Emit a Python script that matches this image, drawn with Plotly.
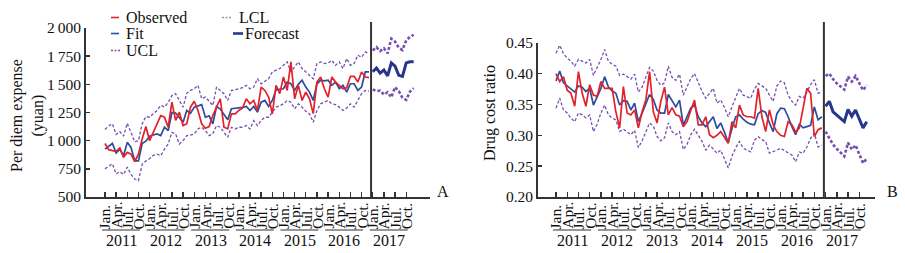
import plotly.graph_objects as go

# ---------------- data ----------------
years = [2011, 2012, 2013, 2014, 2015, 2016, 2017]
month_labels = ["Jan.", "Apr.", "Jul.", "Oct."]
month_offsets = [0, 3, 6, 9]

# Panel A: per diem expense (yuan), Jan 2011 - Dec 2016
obs_A = [975, 920, 912, 905, 935, 852, 896, 880, 815, 880, 1015, 1125,
         1000, 1074, 1155, 1223, 1208, 1120, 1342, 1180, 1253, 1134, 1150, 1298,
         1350, 1268, 1150, 1110, 1125, 1223, 1298, 1372, 1120, 1105, 1238, 1238,
         1268, 1290, 1372, 1327, 1357, 1268, 1476, 1446, 1387, 1238, 1491, 1417,
         1565, 1446, 1699, 1372, 1491, 1357, 1431, 1372, 1240, 1520, 1565, 1461,
         1387, 1565, 1520, 1491, 1461, 1470, 1571, 1571, 1520, 1610, 1565, 1560]
fit_A = [925, 950, 975, 890, 925, 866, 985, 940, 820, 820, 975, 995,
         1040, 1050, 1060, 1045, 1120, 1090, 1250, 1245, 1200, 1164, 1268, 1244,
         1298, 1310, 1320, 1208, 1220, 1150, 1303, 1280, 1230, 1185, 1283, 1285,
         1290, 1295, 1304, 1268, 1304, 1253, 1342, 1357, 1304, 1357, 1452, 1455,
         1461, 1520, 1505, 1446, 1500, 1536, 1476, 1431, 1357, 1505, 1536, 1530,
         1536, 1491, 1520, 1461, 1491, 1431, 1505, 1505, 1446, 1476, 1610, 1610]
ucl_A = [1100, 1130, 1150, 1055, 1080, 1040, 1155, 1070, 990, 1000, 1150, 1215,
         1208, 1238, 1268, 1313, 1298, 1340, 1400, 1417, 1360, 1298, 1420, 1446,
         1461, 1491, 1372, 1387, 1350, 1313, 1476, 1446, 1417, 1357, 1446, 1452,
         1461, 1470, 1491, 1461, 1476, 1550, 1505, 1530, 1550, 1610, 1625, 1640,
         1669, 1699, 1610, 1655, 1699, 1640, 1610, 1580, 1550, 1684, 1699, 1684,
         1690, 1714, 1669, 1699, 1640, 1729, 1669, 1684, 1759, 1740, 1788, 1773]
lcl_A = [750, 775, 795, 705, 725, 700, 765, 700, 660, 645, 790, 820,
         840, 870, 880, 866, 925, 970, 1074, 1060, 970, 1000, 1045, 1050,
         1060, 1104, 1119, 1089, 1045, 1060, 1134, 1119, 1074, 1030, 1119, 1104,
         1119, 1119, 1134, 1104, 1178, 1134, 1180, 1208, 1208, 1253, 1298, 1310,
         1327, 1357, 1342, 1283, 1327, 1298, 1260, 1238, 1164, 1268, 1327, 1342,
         1357, 1327, 1320, 1298, 1268, 1290, 1327, 1298, 1357, 1417, 1446, 1440]
fc_A = [1612, 1645, 1600, 1627, 1575, 1690, 1662, 1580, 1570, 1690, 1700, 1700]
fc_ucl_A = [1800, 1830, 1795, 1820, 1775, 1905, 1880, 1825, 1805, 1890, 1920, 1940]
fc_lcl_A = [1455, 1440, 1445, 1410, 1430, 1385, 1475, 1440, 1380, 1362, 1435, 1465]

# Panel B: drug cost ratio
obs_B = [0.400, 0.387, 0.395, 0.373, 0.368, 0.347, 0.403, 0.368, 0.347, 0.382, 0.365, 0.363,
         0.387, 0.376, 0.376, 0.376, 0.338, 0.312, 0.379, 0.336, 0.333, 0.341, 0.312, 0.338,
         0.357, 0.403, 0.338, 0.320, 0.355, 0.378, 0.333, 0.345, 0.333, 0.331, 0.314, 0.322,
         0.340, 0.357, 0.317, 0.317, 0.330, 0.301, 0.296, 0.300, 0.306, 0.296, 0.287, 0.322,
         0.312, 0.349, 0.333, 0.330, 0.330, 0.328, 0.376, 0.330, 0.306, 0.341, 0.317, 0.306,
         0.300, 0.298, 0.322, 0.317, 0.305, 0.312, 0.344, 0.376, 0.368, 0.298, 0.309, 0.312]
fit_B = [0.388, 0.404, 0.385, 0.380, 0.374, 0.370, 0.380, 0.378, 0.371, 0.376, 0.349, 0.362,
         0.376, 0.395, 0.378, 0.372, 0.368, 0.349, 0.356, 0.355, 0.341, 0.352, 0.322, 0.336,
         0.350, 0.366, 0.358, 0.341, 0.336, 0.336, 0.366, 0.355, 0.346, 0.357, 0.316, 0.330,
         0.344, 0.349, 0.330, 0.320, 0.314, 0.322, 0.330, 0.311, 0.320, 0.305, 0.288, 0.311,
         0.330, 0.333, 0.326, 0.321, 0.318, 0.317, 0.335, 0.340, 0.337, 0.320, 0.306, 0.335,
         0.344, 0.343, 0.330, 0.314, 0.301, 0.318, 0.312, 0.314, 0.316, 0.346, 0.325, 0.330]
ucl_B = [0.433, 0.446, 0.432, 0.425, 0.420, 0.412, 0.423, 0.420, 0.417, 0.423, 0.397, 0.410,
         0.423, 0.439, 0.420, 0.415, 0.412, 0.397, 0.399, 0.395, 0.391, 0.399, 0.370, 0.378,
         0.394, 0.410, 0.404, 0.389, 0.381, 0.385, 0.412, 0.394, 0.389, 0.399, 0.365, 0.378,
         0.392, 0.400, 0.385, 0.371, 0.360, 0.368, 0.376, 0.352, 0.357, 0.345, 0.330, 0.346,
         0.362, 0.376, 0.365, 0.363, 0.360, 0.375, 0.384, 0.380, 0.376, 0.365, 0.355, 0.380,
         0.388, 0.385, 0.365, 0.355, 0.349, 0.363, 0.360, 0.370, 0.382, 0.390, 0.368, 0.371]
lcl_B = [0.344, 0.360, 0.341, 0.336, 0.328, 0.322, 0.336, 0.333, 0.328, 0.333, 0.306, 0.318,
         0.336, 0.349, 0.333, 0.328, 0.325, 0.306, 0.310, 0.305, 0.301, 0.308, 0.280, 0.291,
         0.306, 0.320, 0.315, 0.298, 0.291, 0.296, 0.320, 0.306, 0.301, 0.306, 0.277, 0.285,
         0.301, 0.310, 0.300, 0.290, 0.276, 0.284, 0.278, 0.271, 0.276, 0.262, 0.247, 0.266,
         0.280, 0.290, 0.279, 0.276, 0.273, 0.292, 0.298, 0.293, 0.290, 0.271, 0.273, 0.276,
         0.279, 0.275, 0.271, 0.268, 0.257, 0.273, 0.271, 0.281, 0.295, 0.303, 0.281, 0.284]
fc_B = [0.347, 0.355, 0.338, 0.333, 0.328, 0.322, 0.342, 0.331, 0.341, 0.327, 0.312, 0.322]
fc_ucl_B = [0.396, 0.400, 0.391, 0.384, 0.379, 0.374, 0.395, 0.387, 0.396, 0.385, 0.373, 0.381]
fc_lcl_B = [0.306, 0.295, 0.285, 0.278, 0.272, 0.266, 0.288, 0.277, 0.284, 0.270, 0.255, 0.262]

yticks_A = [500, 750, 1000, 1250, 1500, 1750, 2000]
yticktext_A = ["500", "750", "1\u2009000", "1\u2009250", "1\u2009500", "1\u2009750", "2\u2009000"]
yticks_B = [0.20, 0.25, 0.30, 0.35, 0.40, 0.45]
yticktext_B = ["0.20", "0.25", "0.30", "0.35", "0.40", "0.45"]

legend_names = ["Observed", "Fit", "UCL", "LCL", "Forecast"]

# ---------------- styling ----------------
W, H = 905, 253
FONT = "Liberation Serif"
RED = "#E3212B"
BLUE = "#2D4C9C"
PURPLE = "#7650B0"
FCBLUE = "#27368C"
AXIS = "#333333"
TXT = "#111111"


def px(x):
    return x / W


def py(y):
    return 1 - y / H


n_hist = len(obs_A)
hist_x = list(range(n_hist))
fc_x = list(range(n_hist, n_hist + len(fc_A)))
split_x = n_hist - 0.45

fig = go.Figure()

panels = [
    dict(xa="x", ya="y", obs=obs_A, fit=fit_A, ucl=ucl_A, lcl=lcl_A,
         fc=fc_A, fcu=fc_ucl_A, fcl=fc_lcl_A),
    dict(xa="x2", ya="y2", obs=obs_B, fit=fit_B, ucl=ucl_B, lcl=lcl_B,
         fc=fc_B, fcu=fc_ucl_B, fcl=fc_lcl_B),
]

for p in panels:
    common = dict(xaxis=p["xa"], yaxis=p["ya"], mode="lines", showlegend=False)
    fig.add_trace(go.Scatter(x=hist_x, y=p["ucl"], name="UCL",
                             line=dict(color=PURPLE, width=1.3, dash="3px,2px"), **common))
    fig.add_trace(go.Scatter(x=hist_x, y=p["lcl"], name="LCL",
                             line=dict(color=PURPLE, width=1.3, dash="3px,2px"), **common))
    fig.add_trace(go.Scatter(x=hist_x, y=p["fit"], name="Fit",
                             line=dict(color=BLUE, width=1.7), **common))
    fig.add_trace(go.Scatter(x=hist_x, y=p["obs"], name="Observed",
                             line=dict(color=RED, width=1.7), **common))
    fig.add_trace(go.Scatter(x=fc_x, y=p["fcu"], name="UCL",
                             line=dict(color=PURPLE, width=2.6, dash="3px,2px"), **common))
    fig.add_trace(go.Scatter(x=fc_x, y=p["fcl"], name="LCL",
                             line=dict(color=PURPLE, width=2.6, dash="3px,2px"), **common))
    fig.add_trace(go.Scatter(x=fc_x, y=p["fc"], name="Forecast",
                             line=dict(color=FCBLUE, width=3), **common))

tickvals_x = list(range(0, 12 * len(years), 3))

xcommon = dict(showline=True, linecolor=AXIS, linewidth=1.8, ticks="inside",
               tickvals=tickvals_x, ticklen=5, tickwidth=1.4, tickcolor=AXIS,
               showticklabels=False, showgrid=False, zeroline=False, automargin=False)
ycommon = dict(showline=True, linecolor=AXIS, linewidth=1.8, ticks="inside",
               ticklen=4, tickwidth=1.4, tickcolor=AXIS, showgrid=False, zeroline=False,
               automargin=False, tickfont=dict(family=FONT, size=15.5, color=TXT))

ybot = py(197)
fig.update_layout(
    width=W, height=H, autosize=False,
    margin=dict(l=0, r=0, t=0, b=0, pad=0, autoexpand=False),
    showlegend=False,
    paper_bgcolor="white", plot_bgcolor="white",
    font=dict(family=FONT, size=15.5, color=TXT),
    xaxis=dict(domain=[px(86), px(430)], range=[-5.1, 87.4], anchor="y", **xcommon),
    yaxis=dict(domain=[ybot, py(28)], range=[500, 2000], anchor="x",
               tickvals=yticks_A, ticktext=yticktext_A, **ycommon),
    xaxis2=dict(domain=[px(538), px(875)], range=[-4.8, 85.2], anchor="y2", **xcommon),
    yaxis2=dict(domain=[ybot, py(42.7)], range=[0.20, 0.45], anchor="x2",
                tickvals=yticks_B, ticktext=yticktext_B, **ycommon),
)

shapes = []
annotations = []

for xa in ["x", "x2"]:
    # forecast separator
    shapes.append(dict(type="line", xref=xa, yref="paper", x0=split_x, x1=split_x,
                       y0=ybot, y1=py(22), line=dict(color=AXIS, width=2)))
    for yi, yr in enumerate(years):
        base = 12 * yi
        for lab, off in zip(month_labels, month_offsets):
            annotations.append(dict(x=base + off, y=py(231), xref=xa, yref="paper",
                                    text=lab, textangle=-90, showarrow=False,
                                    xanchor="center", yanchor="bottom",
                                    font=dict(family=FONT, size=15.5, color=TXT)))
        shapes.append(dict(type="line", xref=xa, yref="paper", x0=base - 0.8, x1=base + 9.4,
                           y0=py(230), y1=py(230), line=dict(color=AXIS, width=1.2)))
        annotations.append(dict(x=base + 4.4, y=py(240.5), xref=xa, yref="paper",
                                text=str(yr), showarrow=False, xanchor="center",
                                yanchor="middle",
                                font=dict(family=FONT, size=16, color=TXT)))

# axis titles & panel letters
annotations.append(dict(x=px(27), y=py(116), xref="paper", yref="paper",
                        text="Per diem expense<br>(yuan)", textangle=-90, showarrow=False,
                        xanchor="center", yanchor="middle",
                        font=dict(family=FONT, size=16, color=TXT)))
annotations.append(dict(x=px(490), y=py(113), xref="paper", yref="paper",
                        text="Drug cost ratio", textangle=-90, showarrow=False,
                        xanchor="center", yanchor="middle",
                        font=dict(family=FONT, size=16, color=TXT)))
annotations.append(dict(x=px(442.5), y=py(191), xref="paper", yref="paper", text="A",
                        showarrow=False, xanchor="center", yanchor="middle",
                        font=dict(family=FONT, size=16, color=TXT)))
annotations.append(dict(x=px(892), y=py(191), xref="paper", yref="paper", text="B",
                        showarrow=False, xanchor="center", yanchor="middle",
                        font=dict(family=FONT, size=16, color=TXT)))

# legend (drawn with short keys, as in the reference)
legend_items = [
    (legend_names[0], 111, 119, 125, 17.5, dict(color=RED, width=1.6)),
    (legend_names[1], 111, 119, 125, 33.5, dict(color=BLUE, width=1.6)),
    (legend_names[2], 111, 121, 125, 50.5, dict(color=PURPLE, width=1.3, dash="2px,1.5px")),
    (legend_names[3], 222, 232, 238, 17.5, dict(color="#A887C8", width=1.3, dash="2px,1.5px")),
    (legend_names[4], 233, 243, 244, 33.5, dict(color=FCBLUE, width=2.6)),
]
for name, sx0, sx1, tx, yy, ln in legend_items:
    shapes.append(dict(type="line", xref="paper", yref="paper", x0=px(sx0), x1=px(sx1),
                       y0=py(yy), y1=py(yy), line=ln))
    annotations.append(dict(x=px(tx), y=py(yy), xref="paper", yref="paper", text=name,
                            showarrow=False, xanchor="left", yanchor="middle",
                            height=15, borderpad=0, valign="middle",
                            font=dict(family=FONT, size=16, color=TXT)))

fig.update_layout(shapes=shapes, annotations=annotations)
fig.write_html("out.html", config={"displayModeBar": False, "staticPlot": True},
               post_script="document.body.style.margin='0';")
